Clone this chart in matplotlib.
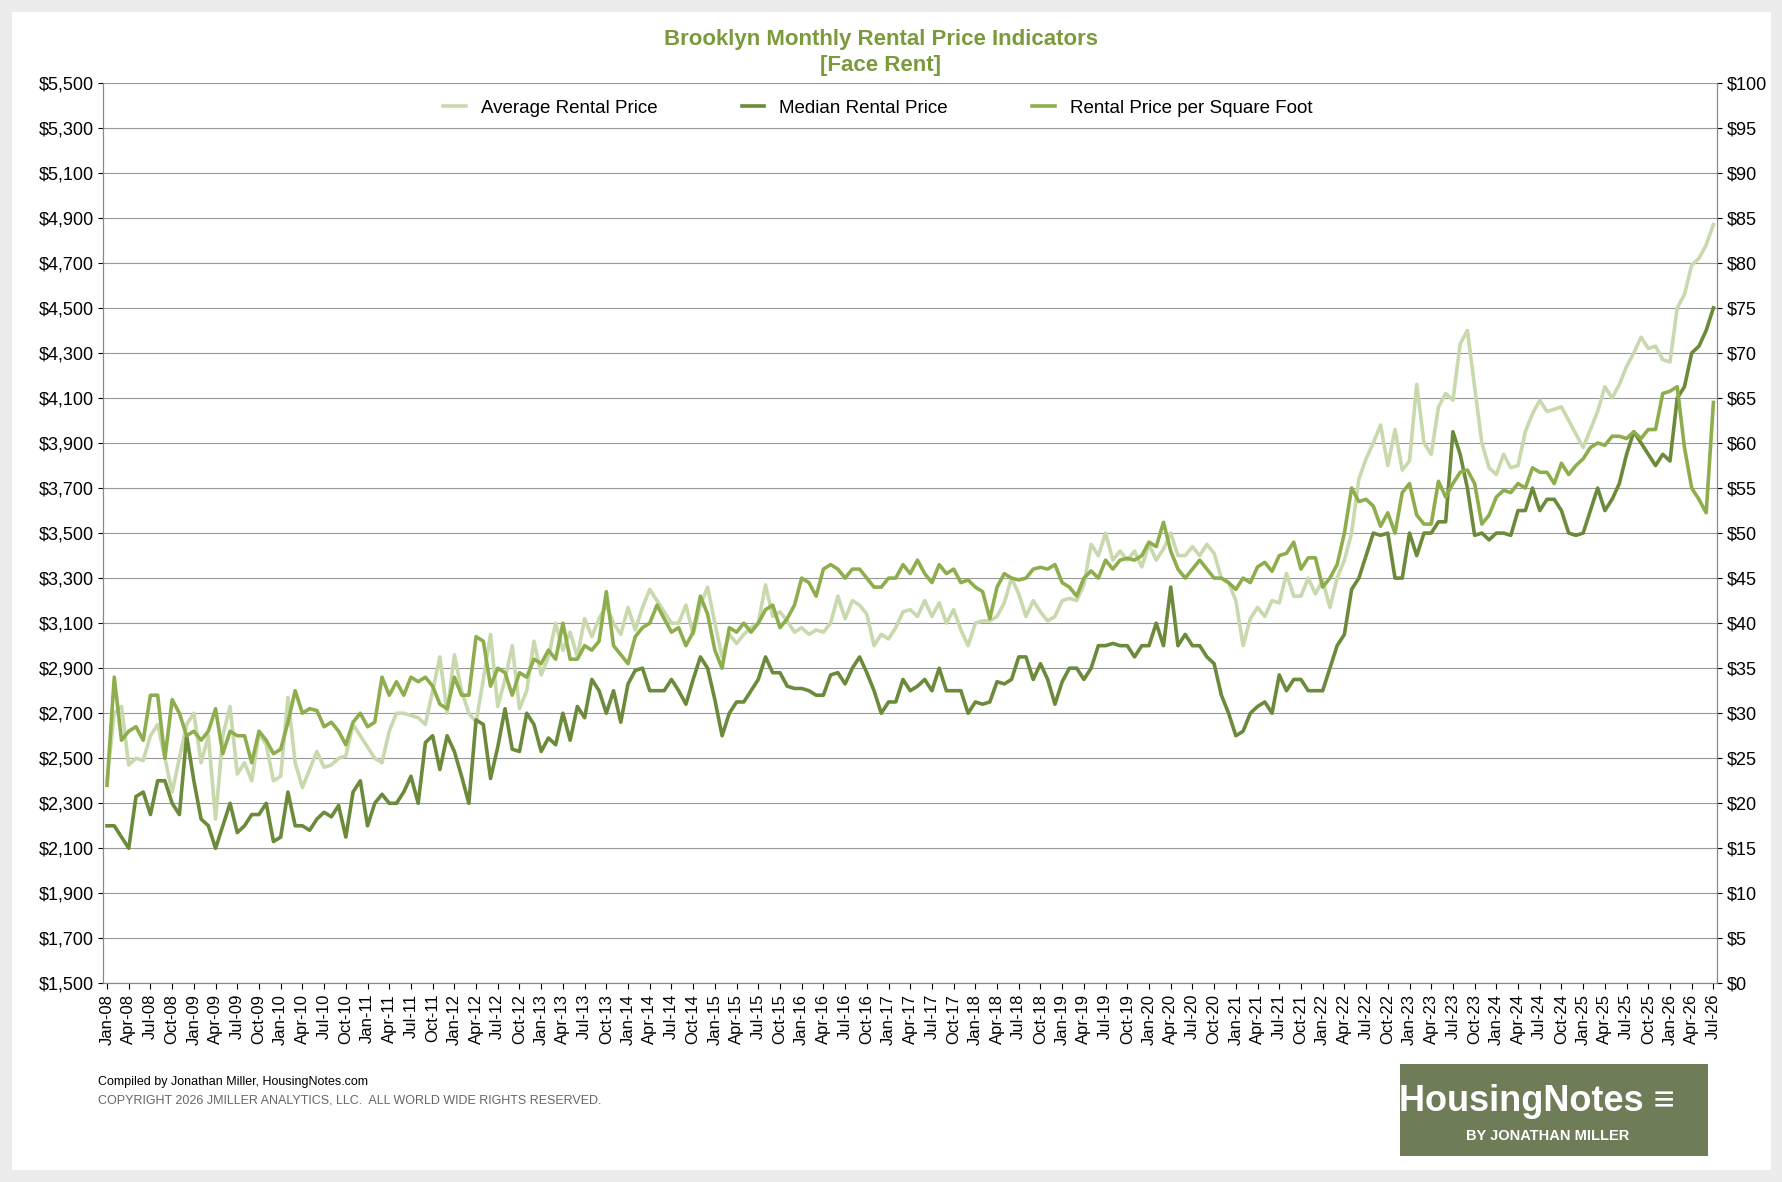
import numpy as np
import pandas as pd
import matplotlib
matplotlib.use("Agg")
import matplotlib.pyplot as plt
from matplotlib.patches import Rectangle

plt.rcParams['font.family'] = ['Liberation Sans', 'DejaVu Sans']

months = pd.date_range("2008-01-01", "2026-07-01", freq="MS")

average = [
    2400, 2700, 2730, 2470, 2500, 2490, 2600, 2650, 2500, 2350, 2500, 2650,
    2700, 2480, 2600, 2230, 2600, 2730, 2430, 2480, 2400, 2610, 2560, 2400,
    2420, 2770, 2480, 2370, 2450, 2530, 2460, 2470, 2500, 2510, 2650, 2600,
    2550, 2500, 2480, 2620, 2700, 2700, 2690, 2680, 2650, 2800, 2950, 2700,
    2960, 2800, 2700, 2660, 2850, 3050, 2730, 2850, 3000, 2720, 2800, 3020,
    2870, 2950, 3100, 2980, 3060, 2950, 3120, 3040, 3120, 3180, 3100, 3050,
    3170, 3070, 3170, 3250, 3200, 3150, 3100, 3100, 3180, 3050, 3180, 3260,
    3100, 2950, 3050, 3010, 3050, 3080, 3100, 3270, 3130, 3150, 3110, 3060,
    3080, 3050, 3070, 3060, 3100, 3220, 3120, 3200, 3180, 3140, 3000, 3050,
    3030, 3080, 3150, 3160, 3130, 3200, 3130, 3190, 3100, 3160, 3070, 3000,
    3100, 3110, 3110, 3130, 3190, 3300, 3230, 3130, 3200, 3150, 3110, 3130,
    3200, 3210, 3200, 3270, 3450, 3400, 3500, 3380, 3420, 3380, 3420, 3350,
    3450, 3380, 3430, 3500, 3400, 3400, 3440, 3400, 3450, 3410, 3300, 3280,
    3200, 3000, 3120, 3170, 3130, 3200, 3190, 3320, 3220, 3220, 3300, 3230,
    3290, 3170, 3300, 3380, 3500, 3740, 3830, 3900, 3980, 3800, 3960, 3780,
    3820, 4160, 3900, 3850, 4060, 4120, 4090, 4340, 4400, 4150, 3900, 3790,
    3760, 3850, 3790, 3800, 3950, 4030, 4090, 4040, 4050, 4060, 4000, 3940,
    3880, 3960, 4040, 4150, 4100, 4160, 4240, 4300, 4370, 4320, 4330, 4270,
    4260, 4500, 4560, 4690, 4720, 4780, 4870,
]

median = [
    2200, 2200, 2150, 2100, 2330, 2350, 2250, 2400, 2400, 2300, 2250, 2600,
    2400, 2230, 2200, 2100, 2200, 2300, 2170, 2200, 2250, 2250, 2300, 2130,
    2150, 2350, 2200, 2200, 2180, 2230, 2260, 2240, 2290, 2150, 2350, 2400,
    2200, 2300, 2340, 2300, 2300, 2350, 2420, 2300, 2570, 2600, 2450, 2600,
    2530, 2420, 2300, 2670, 2650, 2410, 2550, 2720, 2540, 2530, 2700, 2650,
    2530, 2590, 2560, 2700, 2580, 2730, 2680, 2850, 2800, 2700, 2800, 2660,
    2830, 2890, 2900, 2800, 2800, 2800, 2850, 2800, 2740, 2850, 2950, 2900,
    2760, 2600, 2700, 2750, 2750, 2800, 2850, 2950, 2880, 2880, 2820, 2810,
    2810, 2800, 2780, 2780, 2870, 2880, 2830, 2900, 2950, 2880, 2800, 2700,
    2750, 2750, 2850, 2800, 2820, 2850, 2800, 2900, 2800, 2800, 2800, 2700,
    2750, 2740, 2750, 2840, 2830, 2850, 2950, 2950, 2850, 2920, 2850, 2740,
    2840, 2900, 2900, 2850, 2900, 3000, 3000, 3010, 3000, 3000, 2950, 3000,
    3000, 3100, 3000, 3260, 3000, 3050, 3000, 3000, 2950, 2920, 2780, 2700,
    2600, 2620, 2700, 2730, 2750, 2700, 2870, 2800, 2850, 2850, 2800, 2800,
    2800, 2900, 3000, 3050, 3250, 3300, 3400, 3500, 3490, 3500, 3300, 3300,
    3500, 3400, 3500, 3500, 3550, 3550, 3950, 3850, 3700, 3490, 3500, 3470,
    3500, 3500, 3490, 3600, 3600, 3700, 3600, 3650, 3650, 3600, 3500, 3490,
    3500, 3600, 3700, 3600, 3650, 3720, 3850, 3950, 3900, 3850, 3800, 3850,
    3820, 4100, 4150, 4300, 4330, 4400, 4500,
]

ppsf = [
    22, 34, 27, 28, 28.5, 27, 32, 32, 25, 31.5, 30, 27.5,
    28, 27, 28, 30.5, 25.5, 28, 27.5, 27.5, 24.5, 28, 27, 25.5,
    26, 29, 32.5, 30, 30.5, 30.3, 28.5, 29, 28, 26.5, 29, 30,
    28.5, 29, 34, 32, 33.5, 32, 34, 33.5, 34, 33, 31, 30.5,
    34, 32, 32, 38.5, 38, 33, 35, 34.5, 32, 34.5, 34, 36,
    35.5, 37, 36, 40, 36, 36, 37.5, 37, 38, 43.5, 37.5, 36.5,
    35.5, 38.5, 39.5, 40, 42, 40.5, 39, 39.5, 37.5, 39, 43, 41,
    37, 35, 39.5, 39, 40, 39, 40, 41.5, 42, 39.5, 40.5, 42,
    45, 44.5, 43, 46, 46.5, 46, 45, 46, 46, 45, 44, 44,
    45, 45, 46.5, 45.5, 47, 45.5, 44.5, 46.5, 45.5, 46, 44.5, 44.8,
    44, 43.5, 40.5, 44, 45.5, 45, 44.8, 45, 46, 46.2, 46, 46.5,
    44.5, 44, 43, 45, 45.8, 45, 47, 46, 47, 47.2, 47, 47.5,
    49, 48.5, 51.2, 48, 46, 45, 46, 47, 46, 45, 45, 44.5,
    43.75, 45, 44.5, 46.25, 46.75, 45.75, 47.5, 47.75, 49, 46, 47.25, 47.25,
    44, 45, 46.5, 50, 55, 53.5, 53.75, 53, 50.75, 52.25, 50, 54.5,
    55.5, 52, 51, 51, 55.75, 54, 55.5, 56.75, 57, 55.5, 51, 52,
    54, 54.75, 54.5, 55.5, 55, 57.25, 56.75, 56.75, 55.5, 57.75, 56.5, 57.5,
    58.25, 59.5, 60, 59.75, 60.75, 60.75, 60.5, 61.25, 60.5, 61.5, 61.5, 65.5,
    65.75, 66.25, 59.5, 55, 53.75, 52.25, 64.5,
]

c_avg = "#c8d9ad"
c_med = "#6b8a3a"
c_ppsf = "#8eae4e"

fig = plt.figure(figsize=(17.83, 11.82), dpi=100)
fig.patch.set_facecolor("#ececec")
fig.add_artist(Rectangle((0.007, 0.01), 0.986, 0.98, transform=fig.transFigure,
                         facecolor="white", edgecolor="none", zorder=0))

ax = fig.add_axes([0.058, 0.168, 0.905, 0.762])
ax2 = ax.twinx()
x = np.arange(len(months))

l1, = ax.plot(x, average, color=c_avg, lw=2.6, label="Average Rental Price")
l2, = ax.plot(x, median, color=c_med, lw=2.6, label="Median Rental Price")
l3, = ax2.plot(x, ppsf, color=c_ppsf, lw=2.6, label="Rental Price per Square Foot")

ax.set_ylim(1500, 5500)
ax.set_yticks(np.arange(1500, 5501, 200))
ax.set_yticklabels([f"${v:,}" for v in range(1500, 5501, 200)], fontsize=13)
ax2.set_ylim(0, 100)
ax2.set_yticks(np.arange(0, 101, 5))
ax2.set_yticklabels([f"${v}" for v in range(0, 101, 5)], fontsize=13)
ax.grid(axis="y", color="#999999", lw=0.8)
ax.set_axisbelow(True)
ax.set_xlim(-0.5, len(months) - 0.5)
ticks = x[::3]
ax.set_xticks(ticks)
ax.set_xticklabels([months[i].strftime("%b-%y") for i in ticks], rotation=90, fontsize=12)
ax.tick_params(axis="x", length=4)
for a in (ax, ax2):
    for s in ("top",):
        a.spines[s].set_visible(False)
    a.spines["left"].set_color("#888888")
    a.spines["right"].set_color("#888888")
    a.spines["bottom"].set_color("#888888")

ax.legend(handles=[l1, l2, l3], loc="upper center", ncol=3, frameon=False,
          fontsize=13.5, handlelength=1.2, columnspacing=4.5,
          bbox_to_anchor=(0.48, 1.0))

fig.text(0.494, 0.962, "Brooklyn Monthly Rental Price Indicators", ha="center",
         fontsize=16, fontweight="bold", color="#7a9a3c")
fig.text(0.494, 0.940, "[Face Rent]", ha="center", fontsize=16,
         fontweight="bold", color="#7a9a3c")

fig.text(0.055, 0.082, "Compiled by Jonathan Miller, HousingNotes.com", fontsize=9)
fig.text(0.055, 0.066, "COPYRIGHT 2026 JMILLER ANALYTICS, LLC.  ALL WORLD WIDE RIGHTS RESERVED.",
         fontsize=9, color="#666666")

fig.add_artist(Rectangle((0.785, 0.022), 0.173, 0.078, transform=fig.transFigure,
                         facecolor="#6e7c58", edgecolor="none"))
fig.text(0.862, 0.068, "HousingNotes \u2261", ha="center", va="center", fontsize=26,
         fontweight="bold", color="white")
fig.text(0.868, 0.039, "BY JONATHAN MILLER", ha="center", va="center",
         fontsize=10.5, color="white", fontweight="bold")

fig.savefig("out.png", dpi=100)
